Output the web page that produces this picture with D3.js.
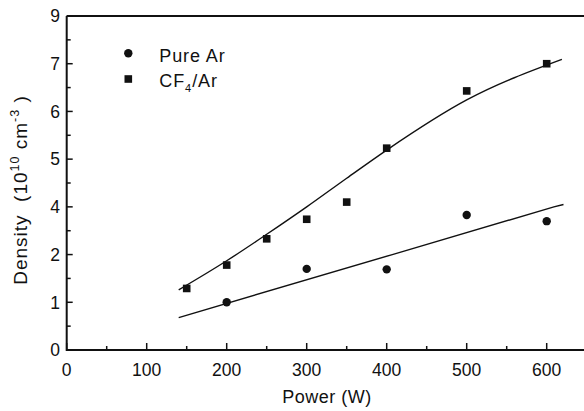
<!DOCTYPE html>
<html>
<head>
<meta charset="utf-8">
<script src="https://cdn.jsdelivr.net/npm/d3@7"></script>
<style>
  body { margin: 0; background: #fff; }
  svg { display: block; font-family: "Liberation Sans", Arial, sans-serif; }
</style>
</head>
<body>
<svg id="chart" width="584" height="411"></svg>
<script>

// measured points (power in W, density in axis label units)
const pureArPower = [200, 300, 400, 500, 600]
const pureArDensity = [1.0, 1.7, 1.69, 3.66, 3.4]

const cf4Power = [150, 200, 250, 300, 350, 400, 500, 600]
const cf4Density = [1.29, 1.78, 2.66, 3.48, 4.1, 5.23, 6.43, 7.0]

// fitted curves as drawn
const pureFitPower = [140, 407, 609, 621]
const pureFitDensity = [0.68, 2.0, 4.0, 4.05]

const cf4FitPower = [140, 200, 250, 300, 350, 400, 500, 619]
const cf4FitDensity = [1.26, 1.87, 2.85, 4.0, 4.6, 5.19, 6.24, 7.18]

// y axis labels as printed, one per evenly spaced major tick
const yTickLabels = [0, 1, 2, 4, 5, 6, 7, 9]
const xTicks = [0, 100, 200, 300, 400, 500, 600]

const svg = d3.select("#chart")

const plotLeft = 66.7, plotRight = 586.7, plotTop = 16, plotBottom = 350

const x = d3.scaleLinear()
  .domain([0, 650])
  .range([plotLeft, plotRight])

const step = (plotBottom - plotTop) / (yTickLabels.length - 1)

// piecewise scale: each printed label sits one step above the previous
const y = d3.scaleLinear()
  .domain(yTickLabels)
  .range(yTickLabels.map((d, i) => plotBottom - i * step))

const ink = "#111"

// frame
svg.append("path")
  .attr("d", `M${plotLeft},${plotTop}H${plotRight}M${plotLeft},${plotTop}V${plotBottom}H${plotRight}`)
  .attr("fill", "none")
  .attr("stroke", ink)
  .attr("stroke-width", 2)

// x ticks
const xMinor = d3.range(50, 650, 100)

svg.selectAll(".xMajor")
  .data(xTicks)
  .join("line")
  .attr("class", "xMajor")
  .attr("x1", d => x(d))
  .attr("x2", d => x(d))
  .attr("y1", plotBottom)
  .attr("y2", plotBottom - 7)
  .attr("stroke", ink)
  .attr("stroke-width", 1.5)

svg.selectAll(".xMinor")
  .data(xMinor)
  .join("line")
  .attr("class", "xMinor")
  .attr("x1", d => x(d))
  .attr("x2", d => x(d))
  .attr("y1", plotBottom)
  .attr("y2", plotBottom - 4)
  .attr("stroke", ink)
  .attr("stroke-width", 1.5)

svg.selectAll(".xLabel")
  .data(xTicks)
  .join("text")
  .attr("class", "xLabel")
  .attr("x", d => x(d))
  .attr("y", 376)
  .attr("text-anchor", "middle")
  .attr("font-size", 17.5)
  .attr("fill", ink)
  .text(d => d)

// y ticks
const yMinorPos = d3.range(0, yTickLabels.length - 1).map(i => plotBottom - (i + 0.5) * step)

svg.selectAll(".yMajor")
  .data(yTickLabels)
  .join("line")
  .attr("class", "yMajor")
  .attr("x1", plotLeft)
  .attr("x2", plotLeft + 6)
  .attr("y1", d => y(d))
  .attr("y2", d => y(d))
  .attr("stroke", ink)
  .attr("stroke-width", 1.5)

svg.selectAll(".yMinor")
  .data(yMinorPos)
  .join("line")
  .attr("class", "yMinor")
  .attr("x1", plotLeft)
  .attr("x2", plotLeft + 4)
  .attr("y1", d => d)
  .attr("y2", d => d)
  .attr("stroke", ink)
  .attr("stroke-width", 1.5)

svg.selectAll(".yLabel")
  .data(yTickLabels)
  .join("text")
  .attr("class", "yLabel")
  .attr("x", 60)
  .attr("y", d => y(d))
  .attr("dy", "0.36em")
  .attr("text-anchor", "end")
  .attr("font-size", 17.5)
  .attr("fill", ink)
  .text(d => d)

// axis titles
svg.append("text")
  .attr("x", 327)
  .attr("y", 403)
  .attr("text-anchor", "middle")
  .attr("font-size", 18)
  .attr("letter-spacing", 0.5)
  .attr("fill", ink)
  .text("Power (W)")

const yTitle = svg.append("text")
  .attr("transform", "translate(26.5,190) rotate(-90)")
  .attr("text-anchor", "middle")
  .attr("font-size", 19)
  .attr("letter-spacing", 1)
  .attr("fill", ink)
  .style("white-space", "pre")

yTitle.append("tspan").text("Density  (10")
yTitle.append("tspan").attr("font-size", 12.5).attr("dy", -8).text("10")
yTitle.append("tspan").attr("dy", 8).text(" cm")
yTitle.append("tspan").attr("font-size", 12.5).attr("dy", -8).text("-3")
yTitle.append("tspan").attr("dy", 8).text(" )")

// fit lines
const fitLine = d3.line()
  .x(d => x(d[0]))
  .y(d => y(d[1]))

svg.append("path")
  .datum(d3.zip(pureFitPower, pureFitDensity))
  .attr("d", fitLine)
  .attr("fill", "none")
  .attr("stroke", ink)
  .attr("stroke-width", 1.4)

svg.append("path")
  .datum(d3.zip(cf4FitPower, cf4FitDensity))
  .attr("d", fitLine.curve(d3.curveMonotoneX))
  .attr("fill", "none")
  .attr("stroke", ink)
  .attr("stroke-width", 1.4)

// markers
svg.selectAll(".pureAr")
  .data(d3.zip(pureArPower, pureArDensity))
  .join("circle")
  .attr("class", "pureAr")
  .attr("cx", d => x(d[0]))
  .attr("cy", d => y(d[1]))
  .attr("r", 4.2)
  .attr("fill", ink)

const sq = 7.6

svg.selectAll(".cf4Ar")
  .data(d3.zip(cf4Power, cf4Density))
  .join("rect")
  .attr("class", "cf4Ar")
  .attr("x", d => x(d[0]) - sq / 2)
  .attr("y", d => y(d[1]) - sq / 2)
  .attr("width", sq)
  .attr("height", sq)
  .attr("fill", ink)

// legend
svg.append("circle")
  .attr("cx", 128.3)
  .attr("cy", 53.3)
  .attr("r", 4.2)
  .attr("fill", ink)

svg.append("rect")
  .attr("x", 128.3 - sq / 2)
  .attr("y", 79 - sq / 2)
  .attr("width", sq)
  .attr("height", sq)
  .attr("fill", ink)

svg.append("text")
  .attr("x", 159.3)
  .attr("y", 61.7)
  .attr("font-size", 18)
  .attr("letter-spacing", 0.9)
  .attr("fill", ink)
  .text("Pure Ar")

const cfLabel = svg.append("text")
  .attr("x", 159.3)
  .attr("y", 87.3)
  .attr("font-size", 18)
  .attr("letter-spacing", 0.9)
  .attr("fill", ink)

cfLabel.append("tspan").text("CF")
cfLabel.append("tspan").attr("font-size", 11).attr("dy", 5).text("4")
cfLabel.append("tspan").attr("dy", -5).text("/Ar")

</script>
</body>
</html>
